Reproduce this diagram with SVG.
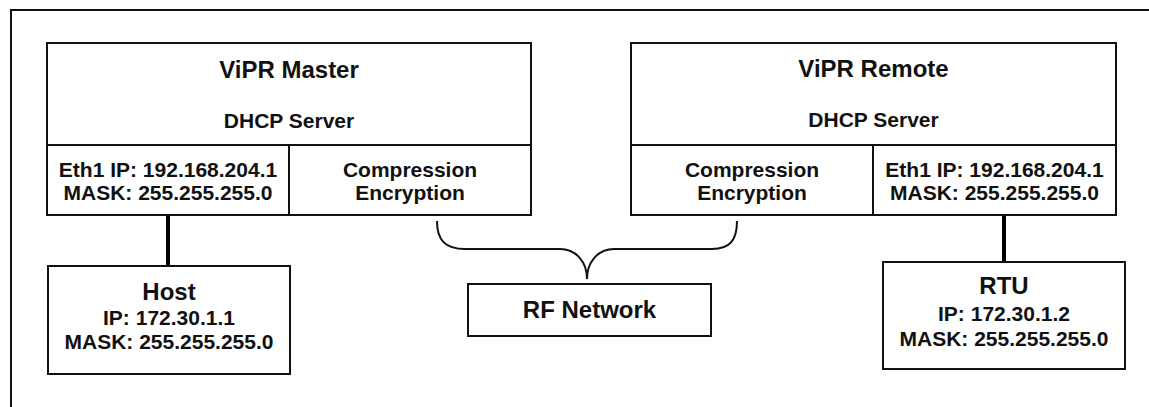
<svg xmlns="http://www.w3.org/2000/svg" width="1149" height="407" viewBox="0 0 1149 407">
<style>
  .box { fill: #ffffff; stroke: #111111; stroke-width: 2; }
  .div { stroke: #111111; stroke-width: 2; fill: none; }
  .t { font-family: "Liberation Sans", Arial, sans-serif; font-weight: bold; fill: #111111; text-anchor: middle; }
  .big { font-size: 24px; }
  .mid { font-size: 21px; }
  .link { stroke: #000000; stroke-width: 4; fill: none; }
  .brace { stroke: #111111; stroke-width: 2; fill: none; }
</style>
<rect x="0" y="0" width="1149" height="407" fill="#ffffff"/>
<g id="frame">
  <path d="M11,407 L11,10 L1149,10" class="div"/>
</g>
<g id="connectors">
  <line x1="168" y1="215" x2="168" y2="266" class="link"/>
  <line x1="1004" y1="215" x2="1004" y2="262" class="link"/>
  <path class="brace" d="M437,221 C437,240 445,249 465,249 L560,249 C576,249 587,262 587,279 C587,262 598,249 614,249 L712,249 C730,249 737,240 737,221"/>
</g>
<g id="vipr-master">
  <rect class="box" x="47" y="43" width="484" height="172"/>
  <line class="div" x1="47" y1="145" x2="531" y2="145"/>
  <line class="div" x1="289" y1="145" x2="289" y2="215"/>
  <text class="t big" x="289" y="78">ViPR Master</text>
  <text class="t mid" x="289" y="128">DHCP Server</text>
  <text class="t mid" x="168" y="177">Eth1 IP: 192.168.204.1</text>
  <text class="t mid" x="168" y="200">MASK: 255.255.255.0</text>
  <text class="t mid" x="410" y="177">Compression</text>
  <text class="t mid" x="410" y="200">Encryption</text>
</g>
<g id="vipr-remote">
  <rect class="box" x="631" y="43" width="485" height="172"/>
  <line class="div" x1="631" y1="145" x2="1116" y2="145"/>
  <line class="div" x1="873" y1="145" x2="873" y2="215"/>
  <text class="t big" x="873.5" y="77">ViPR Remote</text>
  <text class="t mid" x="873.5" y="127">DHCP Server</text>
  <text class="t mid" x="752" y="177">Compression</text>
  <text class="t mid" x="752" y="200">Encryption</text>
  <text class="t mid" x="994.5" y="177">Eth1 IP: 192.168.204.1</text>
  <text class="t mid" x="994.5" y="200">MASK: 255.255.255.0</text>
</g>
<g id="host">
  <rect class="box" x="48" y="266" width="242" height="108"/>
  <text class="t big" x="169" y="300">Host</text>
  <text class="t mid" x="169" y="325">IP: 172.30.1.1</text>
  <text class="t mid" x="169" y="349">MASK: 255.255.255.0</text>
</g>
<g id="rf-network">
  <rect class="box" x="468" y="284" width="243" height="52"/>
  <text class="t big" x="589.5" y="318">RF Network</text>
</g>
<g id="rtu">
  <rect class="box" x="883" y="262" width="242" height="107"/>
  <text class="t big" x="1004" y="294">RTU</text>
  <text class="t mid" x="1004" y="321">IP: 172.30.1.2</text>
  <text class="t mid" x="1004" y="346">MASK: 255.255.255.0</text>
</g>
</svg>
